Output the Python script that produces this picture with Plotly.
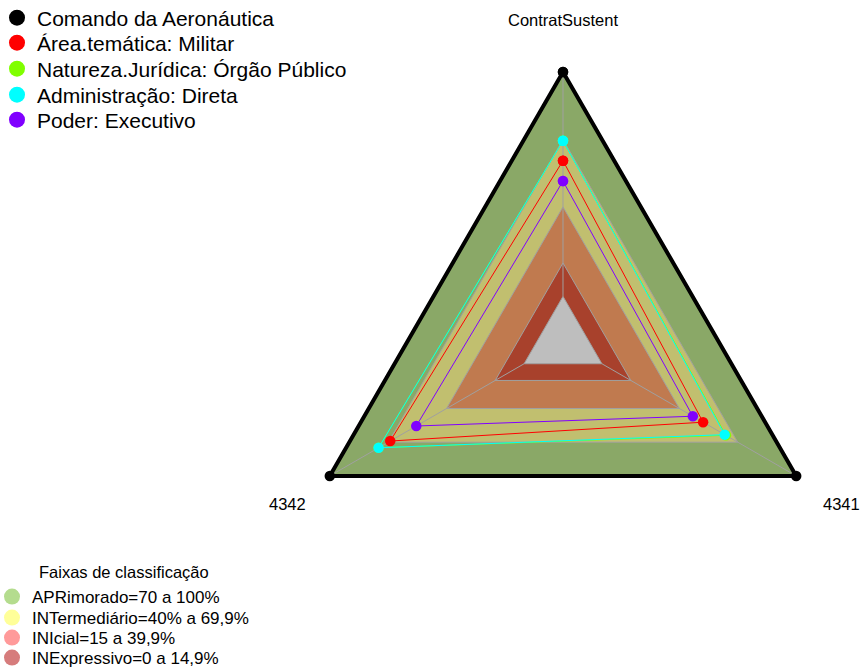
import plotly.graph_objects as go

# ---- data ----
categories = ["ContratSustent", "4342", "4341"]

series_names = [
    "Comando da Aeronáutica",
    "Área.temática: Militar",
    "Natureza.Jurídica: Órgão Público",
    "Administração: Direta",
    "Poder: Executivo",
]
comando = [1.00, 1.00, 1.00]
area_tematica = [0.605, 0.689, 0.521]
natureza_juridica = [0.694, 0.749, 0.638]
administracao = [0.694, 0.749, 0.632]
poder = [0.514, 0.555, 0.468]
series_values = [comando, area_tematica, natureza_juridica, administracao, poder]
series_colors = ["#000000", "#FF0000", "#80FF00", "#00FFFF", "#8000FF"]

band_title = "Faixas de classificação"
band_names = [
    "APRimorado=70 a 100%",
    "INTermediário=40% a 69,9%",
    "INIcial=15 a 39,9%",
    "INExpressivo=0 a 14,9%",
]
band_upper = [1.0, 0.699, 0.399, 0.149]
band_fill = ["#8AA867", "#C1BF6F", "#C07A4F", "#A8412C"]
band_legend = ["#B4DC8E", "#FFFF99", "#FF9A9A", "#D67C7C"]
center_value = 0.0
center_fill = "#BEBEBE"

FONT = "Arial, Liberation Sans, sans-serif"
W, H = 860, 670

fig = go.Figure()

def closed(vals):
    return list(vals) + [vals[0]]

theta_closed = closed(categories)

# bands (outer to inner)
for i, (u, c) in enumerate(zip(band_upper, band_fill)):
    fig.add_trace(go.Scatterpolar(
        r=closed([u] * len(categories)), theta=theta_closed,
        mode="lines", fill="toself", fillcolor=c,
        line=dict(color="#A0A0A0" if i > 0 else c, width=1),
        showlegend=False, hoverinfo="skip"))
fig.add_trace(go.Scatterpolar(
    r=closed([center_value] * len(categories)), theta=theta_closed,
    mode="lines", fill="toself", fillcolor=center_fill,
    line=dict(color="#A0A0A0", width=1),
    showlegend=False, hoverinfo="skip"))

# axis lines
for cat in categories:
    fig.add_trace(go.Scatterpolar(
        r=[center_value, 1.0], theta=[cat, cat], mode="lines",
        line=dict(color="#A0A0A0", width=1),
        showlegend=False, hoverinfo="skip"))

# series
order = [0, 4, 1, 2, 3]
for k in order:
    vals = series_values[k]
    fig.add_trace(go.Scatterpolar(
        r=closed(vals), theta=theta_closed, mode="lines+markers",
        line=dict(color=series_colors[k], width=4 if k == 0 else 1),
        marker=dict(color=series_colors[k], size=10.5),
        name=series_names[k], showlegend=False, cliponaxis=False))

# legend entries: one legend per row for exact row spacing
legend_layout = {}
series_rows_y = [18, 43, 69, 95, 120]
for k in range(len(series_names)):
    lname = "legend" if k == 0 else f"legend{k + 1}"
    fig.add_trace(go.Scatterpolar(
        r=[None], theta=[None], mode="markers",
        marker=dict(color=series_colors[k], size=17),
        name=series_names[k], legend=lname))
    legend_layout[lname] = dict(
        x=-3 / W, y=1 - series_rows_y[k] / H, xanchor="left", yanchor="middle",
        font=dict(size=21, family=FONT, color="#000000"),
        bgcolor="rgba(0,0,0,0)", itemsizing="trace")

band_rows_y = [597, 618, 638, 658]
for j, (name, c) in enumerate(zip(band_names, band_legend)):
    lname = f"legend{len(series_names) + j + 1}"
    fig.add_trace(go.Scatterpolar(
        r=[None], theta=[None], mode="markers",
        marker=dict(color=c, size=16),
        name=name, legend=lname))
    legend_layout[lname] = dict(
        x=-8 / W, y=1 - band_rows_y[j] / H, xanchor="left", yanchor="middle",
        font=dict(size=17, family=FONT, color="#000000"),
        bgcolor="rgba(0,0,0,0)", itemsizing="trace")

annotations = [
    dict(text=band_title, x=124 / W, y=1 - 572 / H, xref="paper", yref="paper",
         xanchor="center", yanchor="middle", showarrow=False,
         font=dict(size=16.5, family=FONT, color="#000000")),
]
label_pos = {"ContratSustent": (563, 20), "4342": (287, 504), "4341": (841, 504)}
for cat in categories:
    px, py = label_pos[cat]
    annotations.append(dict(
        text=cat, x=px / W, y=1 - py / H, xref="paper", yref="paper",
        xanchor="center", yanchor="middle", showarrow=False,
        font=dict(size=16.5, family=FONT, color="#000000")))

fig.update_layout(
    width=W, height=H,
    margin=dict(l=0, r=0, t=0, b=0, pad=0, autoexpand=False),
    paper_bgcolor="white",
    font=dict(family=FONT, color="#000000"),
    polar=dict(
        domain=dict(x=[0.33372, 0.97558], y=[0.07866, 0.90254]),
        bgcolor="rgba(0,0,0,0)",
        gridshape="linear",
        radialaxis=dict(range=[-0.2, 1.03], visible=False),
        angularaxis=dict(
            direction="counterclockwise", rotation=90,
            categoryorder="array", categoryarray=categories,
            showgrid=False, showline=False, showticklabels=False, ticks="",
        ),
    ),
    annotations=annotations,
    **legend_layout,
)

fig.write_html("out.html", config={"displayModeBar": False},
               post_script="document.body.style.margin='0';")
